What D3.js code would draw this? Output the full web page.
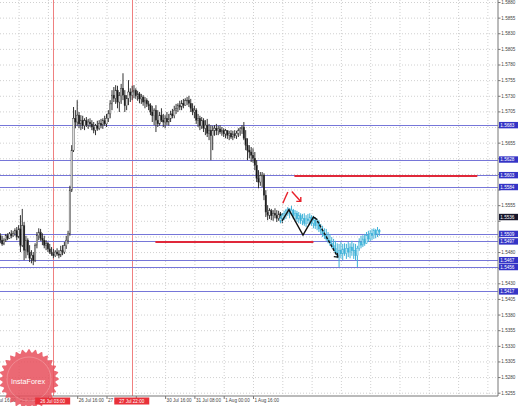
<!DOCTYPE html>
<html><head><meta charset="utf-8">
<script src="https://cdn.jsdelivr.net/npm/d3@7"></script>
<style>body{margin:0;background:#fff}svg{display:block}text{font-family:"Liberation Sans",Arial,sans-serif}</style>
</head><body>
<svg id="c" width="519" height="406"></svg>
<script>
// ---------- DATA ----------
const timeLabels = ["24 Jul 16:00","25 Jul 08:00","26 Jul 00:00","26 Jul 16:00","27 Jul 08:00","30 Jul 00:00","30 Jul 16:00","31 Jul 08:00","1 Aug 00:00","1 Aug 16:00"];
const timeLabelBars = [-6,10,26,42,58,74,90,106,122,138];
const gridBars = [-6,10,26,42,58,74,90,106,122,138,154,170,186,202,218,234,250,266];
const priceTicks = [1.5880,1.5855,1.5830,1.5805,1.5780,1.5755,1.5730,1.5705,1.5680,1.5655,1.5630,1.5605,1.5580,1.5555,1.5530,1.5505,1.5480,1.5455,1.5430,1.5405,1.5380,1.5355,1.5330,1.5305,1.5280,1.5255];
const levelPrices = [1.5683,1.5628,1.5603,1.5584,1.5509,1.5497,1.5467,1.5456,1.5417];
const redLevels = [1.5602,1.5496];
const redFrom = [160.6,84.7];
const redTo = [260.5,171];
const vLineBars = [28.6,71.8];
const vLineLabels = ["26 Jul 03:00","27 Jul 22:00"];

// actual hourly bars (index 0..154)
const opens = [1.5506,1.5499,1.5493,1.5499,1.5506,1.5502,1.5509,1.5506,1.5510,1.5514,1.5504,1.5517,1.5491,1.5522,1.5483,1.5499,1.5480,1.5470,1.5475,1.5467,1.5491,1.5506,1.5512,1.5502,1.5499,1.5491,1.5494,1.5485,1.5480,1.5477,1.5474,1.5480,1.5477,1.5475,1.5483,1.5480,1.5490,1.5499,1.5509,1.5579,1.5643,1.5694,1.5688,1.5699,1.5685,1.5691,1.5682,1.5690,1.5683,1.5688,1.5685,1.5680,1.5675,1.5682,1.5678,1.5686,1.5683,1.5690,1.5685,1.5694,1.5701,1.5717,1.5731,1.5726,1.5739,1.5720,1.5730,1.5742,1.5731,1.5714,1.5726,1.5736,1.5731,1.5736,1.5739,1.5730,1.5733,1.5725,1.5728,1.5720,1.5723,1.5717,1.5714,1.5704,1.5698,1.5707,1.5691,1.5685,1.5699,1.5691,1.5688,1.5694,1.5688,1.5693,1.5701,1.5698,1.5707,1.5710,1.5715,1.5712,1.5718,1.5715,1.5722,1.5723,1.5718,1.5710,1.5704,1.5707,1.5691,1.5694,1.5682,1.5690,1.5678,1.5683,1.5670,1.5675,1.5666,1.5675,1.5678,1.5674,1.5677,1.5672,1.5675,1.5669,1.5674,1.5667,1.5670,1.5664,1.5669,1.5666,1.5670,1.5674,1.5677,1.5680,1.5662,1.5651,1.5643,1.5640,1.5635,1.5630,1.5619,1.5598,1.5592,1.5602,1.5603,1.5571,1.5544,1.5539,1.5546,1.5538,1.5542,1.5539,1.5534,1.5541,1.5533];
const highs = [1.5510,1.5506,1.5502,1.5509,1.5510,1.5512,1.5515,1.5514,1.5518,1.5520,1.5523,1.5539,1.5549,1.5528,1.5506,1.5502,1.5491,1.5483,1.5480,1.5494,1.5512,1.5518,1.5517,1.5510,1.5506,1.5499,1.5496,1.5493,1.5488,1.5485,1.5483,1.5486,1.5483,1.5490,1.5491,1.5496,1.5506,1.5514,1.5586,1.5651,1.5712,1.5707,1.5723,1.5704,1.5699,1.5698,1.5694,1.5696,1.5693,1.5694,1.5691,1.5688,1.5685,1.5690,1.5691,1.5693,1.5694,1.5698,1.5701,1.5707,1.5723,1.5739,1.5744,1.5747,1.5746,1.5736,1.5749,1.5766,1.5739,1.5731,1.5755,1.5742,1.5746,1.5747,1.5742,1.5738,1.5736,1.5733,1.5731,1.5728,1.5726,1.5722,1.5718,1.5714,1.5710,1.5715,1.5707,1.5704,1.5710,1.5701,1.5699,1.5704,1.5701,1.5706,1.5709,1.5714,1.5717,1.5718,1.5722,1.5723,1.5725,1.5726,1.5728,1.5730,1.5725,1.5718,1.5714,1.5710,1.5701,1.5698,1.5696,1.5694,1.5691,1.5693,1.5685,1.5683,1.5682,1.5683,1.5685,1.5682,1.5683,1.5680,1.5678,1.5677,1.5675,1.5674,1.5675,1.5674,1.5675,1.5674,1.5678,1.5680,1.5683,1.5688,1.5675,1.5662,1.5651,1.5648,1.5646,1.5640,1.5627,1.5611,1.5608,1.5608,1.5606,1.5579,1.5555,1.5550,1.5549,1.5547,1.5550,1.5547,1.5546,1.5544,1.5542];
const lows = [1.5494,1.5490,1.5491,1.5496,1.5499,1.5501,1.5502,1.5504,1.5506,1.5499,1.5502,1.5480,1.5488,1.5467,1.5470,1.5475,1.5464,1.5462,1.5459,1.5464,1.5486,1.5499,1.5498,1.5491,1.5486,1.5483,1.5480,1.5477,1.5474,1.5470,1.5472,1.5474,1.5470,1.5472,1.5475,1.5477,1.5485,1.5493,1.5506,1.5576,1.5640,1.5678,1.5682,1.5678,1.5675,1.5677,1.5675,1.5680,1.5677,1.5680,1.5675,1.5670,1.5667,1.5674,1.5675,1.5678,1.5677,1.5682,1.5680,1.5688,1.5694,1.5707,1.5720,1.5717,1.5710,1.5704,1.5717,1.5723,1.5704,1.5707,1.5715,1.5720,1.5723,1.5726,1.5725,1.5722,1.5718,1.5717,1.5714,1.5710,1.5712,1.5707,1.5699,1.5688,1.5683,1.5672,1.5680,1.5682,1.5688,1.5680,1.5678,1.5683,1.5682,1.5688,1.5694,1.5694,1.5701,1.5704,1.5707,1.5707,1.5710,1.5714,1.5715,1.5712,1.5704,1.5699,1.5694,1.5685,1.5680,1.5675,1.5677,1.5672,1.5667,1.5664,1.5659,1.5627,1.5643,1.5666,1.5667,1.5667,1.5669,1.5666,1.5664,1.5662,1.5661,1.5659,1.5661,1.5659,1.5662,1.5661,1.5664,1.5666,1.5669,1.5659,1.5643,1.5627,1.5630,1.5624,1.5623,1.5611,1.5592,1.5582,1.5586,1.5584,1.5563,1.5536,1.5531,1.5533,1.5531,1.5530,1.5534,1.5528,1.5530,1.5528,1.5526];
const closes = [1.5499,1.5493,1.5499,1.5506,1.5502,1.5509,1.5506,1.5510,1.5514,1.5504,1.5517,1.5491,1.5522,1.5483,1.5499,1.5480,1.5470,1.5475,1.5467,1.5491,1.5506,1.5512,1.5502,1.5499,1.5491,1.5494,1.5485,1.5480,1.5477,1.5474,1.5480,1.5477,1.5475,1.5483,1.5480,1.5490,1.5499,1.5509,1.5579,1.5643,1.5694,1.5688,1.5699,1.5685,1.5691,1.5682,1.5690,1.5683,1.5688,1.5685,1.5680,1.5675,1.5682,1.5678,1.5686,1.5683,1.5690,1.5685,1.5694,1.5701,1.5717,1.5731,1.5726,1.5739,1.5720,1.5730,1.5742,1.5731,1.5714,1.5726,1.5736,1.5731,1.5736,1.5739,1.5730,1.5733,1.5725,1.5728,1.5720,1.5723,1.5717,1.5714,1.5704,1.5698,1.5707,1.5691,1.5685,1.5699,1.5691,1.5688,1.5694,1.5688,1.5693,1.5701,1.5698,1.5707,1.5710,1.5715,1.5712,1.5718,1.5715,1.5722,1.5723,1.5718,1.5710,1.5704,1.5707,1.5691,1.5694,1.5682,1.5690,1.5678,1.5683,1.5670,1.5675,1.5666,1.5675,1.5678,1.5674,1.5677,1.5672,1.5675,1.5669,1.5674,1.5667,1.5670,1.5664,1.5669,1.5666,1.5670,1.5674,1.5677,1.5680,1.5662,1.5651,1.5643,1.5640,1.5635,1.5630,1.5619,1.5598,1.5592,1.5602,1.5603,1.5571,1.5544,1.5539,1.5546,1.5538,1.5542,1.5539,1.5534,1.5541,1.5533,1.5536];

// forecast bars (index 153..207)
const forecastStart = 153;
const fOpens = [1.5531,1.5534,1.5539,1.5542,1.5546,1.5549,1.5541,1.5547,1.5538,1.5542,1.5533,1.5538,1.5530,1.5534,1.5526,1.5533,1.5530,1.5536,1.5526,1.5531,1.5522,1.5528,1.5517,1.5514,1.5509,1.5506,1.5501,1.5498,1.5494,1.5490,1.5486,1.5480,1.5475,1.5483,1.5477,1.5485,1.5478,1.5486,1.5480,1.5488,1.5482,1.5483,1.5474,1.5486,1.5496,1.5491,1.5501,1.5494,1.5506,1.5501,1.5510,1.5506,1.5514,1.5509,1.5515];
const fHighs = [1.5538,1.5542,1.5546,1.5549,1.5552,1.5550,1.5554,1.5549,1.5547,1.5546,1.5544,1.5542,1.5541,1.5542,1.5539,1.5541,1.5542,1.5539,1.5538,1.5536,1.5533,1.5531,1.5525,1.5522,1.5518,1.5517,1.5512,1.5509,1.5504,1.5501,1.5498,1.5494,1.5493,1.5496,1.5493,1.5494,1.5493,1.5496,1.5494,1.5498,1.5494,1.5493,1.5490,1.5502,1.5506,1.5507,1.5509,1.5512,1.5514,1.5515,1.5517,1.5518,1.5517,1.5520,1.5517];
const fLows = [1.5526,1.5528,1.5531,1.5533,1.5538,1.5534,1.5539,1.5533,1.5531,1.5528,1.5526,1.5525,1.5523,1.5522,1.5520,1.5525,1.5523,1.5522,1.5518,1.5517,1.5515,1.5512,1.5509,1.5504,1.5501,1.5498,1.5494,1.5490,1.5486,1.5482,1.5477,1.5470,1.5456,1.5470,1.5467,1.5474,1.5469,1.5472,1.5470,1.5474,1.5469,1.5467,1.5456,1.5482,1.5486,1.5488,1.5490,1.5493,1.5496,1.5498,1.5499,1.5501,1.5502,1.5504,1.5506];
const fCloses = [1.5534,1.5539,1.5542,1.5546,1.5549,1.5541,1.5547,1.5538,1.5542,1.5533,1.5538,1.5530,1.5534,1.5526,1.5533,1.5530,1.5536,1.5526,1.5531,1.5522,1.5528,1.5517,1.5514,1.5509,1.5506,1.5501,1.5498,1.5494,1.5490,1.5486,1.5480,1.5475,1.5483,1.5477,1.5485,1.5478,1.5486,1.5480,1.5488,1.5482,1.5483,1.5474,1.5486,1.5496,1.5491,1.5501,1.5494,1.5506,1.5501,1.5510,1.5506,1.5514,1.5509,1.5515,1.5512];

// pattern annotation (bar index, price)
const zigBars = [153.9,157.6,165.3,171,173.1];
const zigPrices = [1.5530,1.5548,1.5507,1.5536,1.5532];
const dashBars = [173.1,184.3];
const dashPrices = [1.5530,1.5472];
const markBars = [154.3,157.0];
const markPrices = [1.5558,1.5576];
const arrowBars = [159.2,164.1];
const arrowPrices = [1.5577,1.5561];

// ---------- DRAW ----------
const svg = d3.select("#c");
const plotR = 498, plotB = 396;
const x = d3.scaleLinear().domain([0,138]).range([0.3,253]);
const y = d3.scaleLinear().domain([1.5880,1.5255]).range([2,392.7]);
const crisp = v => Math.round(v) + 0.5;

const plot = svg.append("g");
// grid
plot.append("g").call(d3.axisLeft(y).tickValues(priceTicks).tickSize(-plotR).tickFormat(""))
  .call(g=>{g.select(".domain").remove();g.selectAll("line").attr("stroke","#c4c4c4").attr("stroke-dasharray","1,2").attr("stroke-width",0.8);});
plot.append("g").call(d3.axisTop(x).tickValues(gridBars).tickSize(-plotB).tickFormat(""))
  .call(g=>{g.select(".domain").remove();g.selectAll("line").attr("stroke","#c4c4c4").attr("stroke-dasharray","1,2").attr("stroke-width",0.8);});

// vertical lines
plot.selectAll(".vl").data(vLineBars).join("line")
  .attr("x1",d=>crisp(x(d))).attr("x2",d=>crisp(x(d))).attr("y1",0).attr("y2",plotB)
  .attr("stroke","#ef8080").attr("stroke-width",1);

// blue levels
plot.selectAll(".lv").data(levelPrices).join("line")
  .attr("x1",0).attr("x2",plotR).attr("y1",d=>crisp(y(d))).attr("y2",d=>crisp(y(d)))
  .attr("stroke","#7676d8").attr("stroke-width",1);

// red levels
plot.selectAll(".rl").data(redLevels).join("line")
  .attr("x1",(d,i)=>x(redFrom[i])).attr("x2",(d,i)=>x(redTo[i]))
  .attr("y1",d=>Math.round(y(d))).attr("y2",d=>Math.round(y(d)))
  .attr("stroke","#e0283a").attr("stroke-width",2);

// candles
function drawBars(o,h,l,c,start,col,bodyBear,bodyBull){
  const g = plot.append("g");
  const idx = d3.range(o.length);
  g.selectAll("line").data(idx).join("line")
    .attr("x1",i=>x(i+start)).attr("x2",i=>x(i+start))
    .attr("y1",i=>y(h[i])).attr("y2",i=>y(l[i]))
    .attr("stroke",col).attr("stroke-width",1);
  g.selectAll("rect").data(idx).join("rect")
    .attr("x",i=>x(i+start)-0.75).attr("width",1.5)
    .attr("y",i=>y(Math.max(o[i],c[i])))
    .attr("height",i=>Math.max(0.8,Math.abs(y(o[i])-y(c[i]))))
    .attr("fill",i=>c[i]<o[i]?bodyBear:bodyBull)
    .attr("stroke",col).attr("stroke-width",0.4);
}
drawBars(opens,highs,lows,closes,0,"#333","#151515","#e0e0e0");
drawBars(fOpens,fHighs,fLows,fCloses,forecastStart,"#3fb2d8","#3fb2d8","#bfe6f3");

// pattern lines
const ln = d3.line().x(d=>x(d[0])).y(d=>y(d[1]));
plot.append("path").attr("d",ln(zigBars.map((b,i)=>[b,zigPrices[i]])))
  .attr("fill","none").attr("stroke","#111").attr("stroke-width",1.4);
plot.append("path").attr("d",ln(dashBars.map((b,i)=>[b,dashPrices[i]])))
  .attr("fill","none").attr("stroke","#111").attr("stroke-width",1.4).attr("stroke-dasharray","3,1.5");
{
  const ex = x(dashBars[1]), ey = y(dashPrices[1]);
  plot.append("path").attr("d",`M${ex-4},${ey-0.5}L${ex},${ey}L${ex-0.5},${ey-4}`)
    .attr("fill","none").attr("stroke","#111").attr("stroke-width",1.3);
}
// red mark
plot.append("path").attr("d",ln(markBars.map((b,i)=>[b,markPrices[i]])))
  .attr("fill","none").attr("stroke","#e8202a").attr("stroke-width",1.4);
plot.append("path").attr("d",ln(arrowBars.map((b,i)=>[b,arrowPrices[i]])))
  .attr("fill","none").attr("stroke","#e8202a").attr("stroke-width",1.4);
{
  const ex = x(arrowBars[1]), ey = y(arrowPrices[1]);
  plot.append("path").attr("d",`M${ex-4.5},${ey}L${ex},${ey}L${ex},${ey-4.5}`)
    .attr("fill","none").attr("stroke","#e8202a").attr("stroke-width",1.4);
}

// axes
const fmt = d3.format(".4f");
const lastClose = closes[closes.length-1];
const boxedPrices = levelPrices.concat([lastClose]);
const hidden = p => boxedPrices.some(b => Math.abs(y(b)-y(p)) < 5.5);
const ay = svg.append("g").attr("transform",`translate(${plotR},0)`)
  .call(d3.axisRight(y).tickValues(priceTicks).tickSize(2.5).tickPadding(0.8).tickFormat(fmt));
ay.select(".domain").attr("d",`M0,0V${plotB}`).attr("stroke","#777");
ay.selectAll("line").attr("stroke","#777");
ay.selectAll("text").attr("font-size","4.6px").attr("fill","#444").attr("font-family","Liberation Sans, Arial, sans-serif")
  .attr("display",d=>hidden(d)?"none":null);

const vBoxX = vLineBars.map(b=>x(b));
const ax = svg.append("g").attr("transform",`translate(0,${plotB})`)
  .call(d3.axisBottom(x).tickValues(timeLabelBars).tickSize(3).tickFormat((d,i)=>timeLabels[i]));
ax.select(".domain").attr("d",`M0,0H${plotR}`).attr("stroke","#777");
ax.selectAll("line").attr("stroke","#777");
ax.selectAll("text").attr("font-size","4.6px").attr("fill","#444").attr("text-anchor","start")
  .attr("x",1).attr("y",2.6).attr("font-family","Liberation Sans, Arial, sans-serif")
  .attr("display",d=>vBoxX.some(vx=>Math.abs(x(d)-vx)<8)?"none":null);

// level labels on price axis
const lab = svg.append("g");
lab.selectAll("rect").data(levelPrices).join("rect")
  .attr("x",plotR+1).attr("width",19).attr("y",d=>y(d)-3.2).attr("height",6.4).attr("fill","#3434c6");
lab.selectAll("text").data(levelPrices).join("text")
  .attr("x",plotR+2.3).attr("y",d=>y(d)).attr("dy","0.35em")
  .attr("font-size","4.6px").attr("fill","#fff").text(d=>fmt(d));
lab.append("rect").attr("x",plotR+1).attr("width",19).attr("y",y(lastClose)-3.2).attr("height",6.4).attr("fill","#15152a");
lab.append("text").attr("x",plotR+2.3).attr("y",y(lastClose)).attr("dy","0.35em")
  .attr("font-size","4.6px").attr("fill","#fff").text(fmt(lastClose));

// logo seal
{
  const cx = 29, cy = 379, n = 28, pts = [];
  for(let k=0;k<n*2;k++){const r = k%2? 26.5:30; const a = Math.PI*k/n; pts.push([cx+r*Math.cos(a), cy+r*Math.sin(a)]);}
  const lg = svg.append("g").attr("opacity",0.85);
  lg.append("path").attr("d",d3.line().curve(d3.curveCardinalClosed)(pts)).attr("fill","#e8505c");
  lg.append("circle").attr("cx",cx).attr("cy",cy).attr("r",22).attr("fill","none").attr("stroke","#f4a0a6").attr("stroke-width",0.8).attr("opacity",0.6);
  lg.append("text").attr("x",cx-1).attr("y",cy+5).attr("text-anchor","middle").attr("font-size","7.2px")
    .attr("fill","#fff").attr("font-family","Liberation Sans, Arial, sans-serif").text("InstaForex");
}

// vertical line labels
const vb = svg.append("g");
vb.selectAll("rect").data(vLineBars).join("rect")
  .attr("x",d=>x(d)-17.5).attr("width",35).attr("y",plotB+1.5).attr("height",7).attr("fill","#e8313a");
vb.selectAll("text").data(vLineBars).join("text")
  .attr("x",d=>x(d)).attr("y",plotB+5).attr("dy","0.35em").attr("text-anchor","middle")
  .attr("font-size","4.6px").attr("fill","#fff").text((d,i)=>vLineLabels[i]);
</script>
</body></html>
